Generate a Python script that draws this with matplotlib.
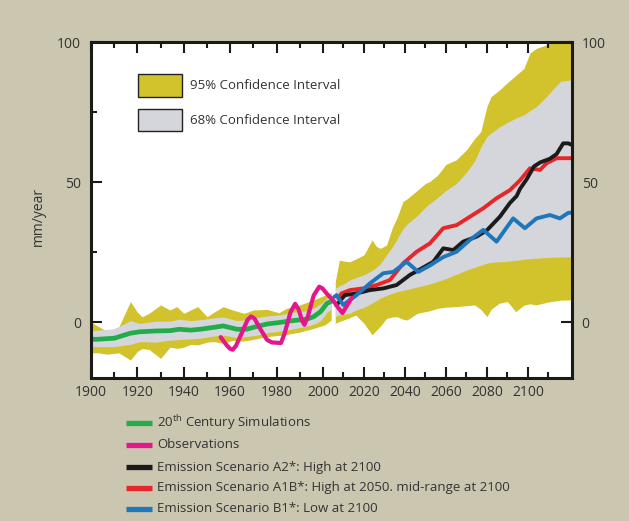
import numpy as np
import matplotlib
matplotlib.use("Agg")
import matplotlib.pyplot as plt
from matplotlib.lines import Line2D
from matplotlib.patches import Rectangle

# ---------------- data ----------------
# 20th-century model band (95% / 68%) and ensemble mean
band20_years = [1900, 1903, 1907, 1912, 1917, 1920, 1922, 1925, 1930, 1934, 1937, 1940, 1943,
                1946, 1950, 1953, 1957, 1961, 1966, 1970, 1976, 1981, 1984, 1990, 1996, 2001, 2004]
ci95_20_hi = [0.0, -1.5, -3.4, -1.7, 7.3, 3.5, 1.9, 3.1, 6.1, 4.3, 5.5, 3.1, 4.3,
              5.5, 1.9, 3.5, 5.5, 4.3, 3.1, 4.3, 4.5, 3.3, 4.8, 6.1, 7.9, 9.6, 10.5]
ci95_20_lo = [-11.0, -11.0, -11.5, -11.0, -13.6, -10.5, -9.5, -9.8, -13.0, -9.0, -9.4, -9.0, -8.0,
              -8.2, -7.2, -7.0, -7.6, -6.6, -6.8, -6.2, -5.2, -4.8, -4.5, -3.6, -2.3, -1.0, 0.7]

sim_years = [1900, 1902, 1910, 1917, 1921, 1928, 1934, 1938, 1943, 1947, 1953, 1957,
             1963, 1967, 1971, 1976, 1981, 1987, 1993, 1996, 1999, 2002, 2004]
sim_mean = [-6.1, -6.2, -5.8, -4.0, -3.5, -3.2, -3.1, -2.6, -2.9, -2.6, -1.9, -1.4,
            -2.6, -2.6, -1.7, -0.7, -0.2, 0.5, 1.0, 1.9, 3.7, 6.7, 7.3]
ci68_20_hi = [-3.0, -3.0, -2.4, 0.5, -0.5, 0.3, 0.3, 1.0, 0.5, 0.8, 1.5, 1.8,
              0.5, 0.8, 1.5, 2.2, 2.5, 3.5, 4.0, 5.0, 6.5, 8.5, 9.0]
ci68_20_lo = [-8.6, -8.8, -8.8, -8.0, -7.0, -7.2, -6.5, -6.3, -6.0, -5.8, -5.0, -4.7,
              -5.5, -5.2, -4.8, -3.8, -3.3, -2.5, -1.5, -0.8, 0.5, 3.5, 4.5]

# Observations
obs_years = [1955.9, 1958.5, 1960.0, 1961.1, 1962.5, 1965.5, 1967.5, 1969.0, 1970.5, 1973.0,
             1975.9, 1978.0, 1981.9, 1983.5, 1986.0, 1988.0, 1989.5, 1991.0, 1992.0, 1993.5,
             1996.0, 1998.4, 1999.8, 2002.0, 2005.1, 2007.0, 2009.5, 2011.0, 2014.0]
obs_vals = [-5.4, -8.3, -9.6, -9.9, -8.5, -3.0, 0.8, 2.0, 1.2, -2.5,
            -6.4, -7.3, -7.5, -4.0, 3.5, 6.5, 4.5, 0.5, -1.0, 2.0,
            9.5, 12.6, 12.0, 10.0, 7.6, 5.5, 3.2, 5.0, 8.6]

# 21st-century projection band
band21_years = [2006, 2008, 2010, 2013, 2016, 2020, 2024, 2026, 2028, 2031, 2034, 2036, 2039,
                2041, 2046, 2050, 2052, 2056, 2060, 2065, 2070, 2074, 2077, 2080, 2082, 2086,
                2090, 2094, 2098, 2101, 2104, 2109, 2112, 2116, 2121.5]
ci95_21_hi = [14.4, 22.1, 21.8, 21.5, 22.5, 24.0, 29.3, 27.0, 26.3, 27.5, 34.0, 37.0, 43.0,
              44.0, 47.0, 49.5, 50.1, 52.5, 56.3, 57.9, 61.5, 65.5, 68.0, 77.0, 80.5, 82.8,
              85.5, 88.0, 90.5, 96.0, 97.7, 99.0, 100.5, 103.0, 105.0]
ci68_21_hi = [12.0, 13.0, 13.5, 15.0, 15.8, 16.9, 18.4, 19.5, 20.8, 24.0, 27.0, 29.5, 33.3,
              35.0, 38.0, 41.0, 42.3, 44.5, 47.0, 49.4, 53.5, 57.5, 62.5, 66.2, 67.5, 69.6,
              71.3, 72.8, 74.0, 75.5, 76.9, 80.5, 83.0, 86.0, 86.5]
ci68_21_lo = [2.0, 2.5, 2.8, 3.1, 4.2, 5.2, 6.8, 7.6, 8.5, 9.5, 10.3, 10.8, 11.3,
              11.6, 12.5, 13.2, 13.6, 14.5, 15.5, 17.0, 18.5, 19.5, 20.3, 21.0, 21.3, 21.5,
              21.7, 22.0, 22.4, 22.6, 22.8, 23.0, 23.1, 23.2, 23.3]
ci95_21_lo = [-0.5, 0.2, 0.7, 1.5, 2.5, -0.5, -4.6, -3.0, -1.5, 1.3, 1.8, 1.9, 1.0,
              0.7, 3.1, 3.7, 4.0, 4.9, 5.3, 5.5, 5.8, 6.1, 4.5, 1.9, 4.5, 6.7,
              7.3, 3.7, 6.0, 6.5, 6.1, 7.0, 7.4, 7.8, 7.9]

# Emission scenarios
a2_years = [2006.5, 2010.7, 2016.4, 2022.9, 2029.4, 2035.9, 2042.4, 2047.3, 2053.8, 2058.7,
            2063.6, 2068.4, 2075.0, 2079.9, 2086.3, 2091.2, 2094.5, 2096.1, 2099.4, 2103.0,
            2106.0, 2110.7, 2114.0, 2117.2, 2119.7, 2121.5]
a2_vals = [6.0, 9.6, 10.2, 11.4, 12.0, 13.2, 16.8, 18.8, 21.5, 26.3,
           25.7, 28.7, 30.5, 32.7, 37.6, 42.5, 45.0, 47.5, 51.0, 55.6,
           57.0, 58.3, 60.0, 63.8, 63.8, 63.2]

a1b_years = [2007.5, 2009.0, 2013.2, 2019.7, 2026.2, 2032.7, 2039.2, 2045.7, 2052.2, 2058.7,
             2065.2, 2071.7, 2078.2, 2084.7, 2091.2, 2096.0, 2101.0, 2105.9, 2109.1, 2114.0, 2121.5]
a1b_vals = [8.5, 10.2, 11.4, 12.0, 13.2, 15.0, 21.0, 25.1, 28.1, 33.5,
            34.6, 37.6, 40.6, 44.2, 47.1, 50.5, 54.9, 54.3, 56.7, 58.5, 58.5]

b1_years = [2005.5, 2006.7, 2009.9, 2016.4, 2022.9, 2029.4, 2034.3, 2040.8, 2046.5, 2052.2,
            2058.7, 2065.2, 2071.7, 2078.2, 2084.7, 2092.8, 2098.5, 2104.2, 2110.7, 2115.6,
            2119.7, 2121.5]
b1_vals = [9.0, 9.6, 6.1, 9.6, 13.8, 17.4, 17.9, 21.5, 17.9, 20.2,
           23.2, 25.1, 29.3, 32.9, 28.7, 37.0, 33.5, 37.0, 38.2, 37.0,
           39.0, 39.0]

x_ticks = list(range(1900, 2101, 20))
y_ticks = [0, 50, 100]

legend_entries = [
    ("20$^{\\mathrm{th}}$ Century Simulations", "#22ad4a"),
    ("Observations", "#e3178b"),
    ("Emission Scenario A2*: High at 2100", "#1b1b1b"),
    ("Emission Scenario A1B*: High at 2050. mid-range at 2100", "#e6262b"),
    ("Emission Scenario B1*: Low at 2100", "#1f76bb"),
]

# ---------------- style ----------------
W, H, DPI = 629, 521, 100
BG = "#cbc6b0"
YELLOW = "#d2c22c"
GREY = "#d4d6db"
TXT = "#333333"
GREEN, MAGENTA, BLACK, RED, BLUE = [c for _, c in legend_entries]

plt.rcParams["font.family"] = ["Open Sans", "DejaVu Sans"]
plt.rcParams["mathtext.fontset"] = "custom"
plt.rcParams["mathtext.rm"] = "Open Sans"
plt.rcParams["mathtext.it"] = "Open Sans"

fig = plt.figure(figsize=(W / DPI, H / DPI), dpi=DPI, facecolor=BG)


def px_box(x0, y0, x1, y1):
    return [x0 / W, 1 - y1 / H, (x1 - x0) / W, (y1 - y0) / H]


ax = fig.add_axes(px_box(91, 42, 572, 378))
ax.set_facecolor("white")

# piecewise time axis: the 21st century is drawn slightly compressed
K = 2.05 / 2.32


def fwd(x):
    x = np.asarray(x, float)
    return np.where(x <= 2000, x, 2000 + (x - 2000) * K)


def inv(u):
    u = np.asarray(u, float)
    return np.where(u <= 2000, u, 2000 + (u - 2000) / K)


ax.set_xscale("function", functions=(fwd, inv))
ax.set_xlim(1900, 2121.5)
ax.set_ylim(-20, 100)

# bands
ax.fill_between(band20_years, ci95_20_lo, ci95_20_hi, color=YELLOW, lw=0, zorder=1)
ax.fill_between(sim_years, ci68_20_lo, ci68_20_hi, color=GREY, lw=0, zorder=2)
ax.fill_between(band21_years, ci95_21_lo, ci95_21_hi, color=YELLOW, lw=0, zorder=1)
ax.fill_between(band21_years, ci68_21_lo, ci68_21_hi, color=GREY, lw=0, zorder=2)

# lines
line_kw = dict(solid_joinstyle="round", solid_capstyle="round")
ax.plot(sim_years, sim_mean, color=GREEN, lw=3.4, zorder=3, **line_kw)
ax.plot(obs_years, obs_vals, color=MAGENTA, lw=3.0, zorder=6, **line_kw)
ax.plot(a1b_years, a1b_vals, color=RED, lw=2.8, zorder=4, **line_kw)
ax.plot(a2_years, a2_vals, color=BLACK, lw=2.8, zorder=4, **line_kw)
ax.plot(b1_years, b1_vals, color=BLUE, lw=2.8, zorder=5, **line_kw)

# axes decoration
for s in ax.spines.values():
    s.set_linewidth(2.2)
    s.set_color("#1a1a1a")
    s.set_zorder(10)

ax.set_xticks(x_ticks)
ax.set_xticks([y + 10 for y in x_ticks], minor=True)
ax.set_xticklabels([str(t) for t in x_ticks])
ax.set_yticks(y_ticks)
ax.set_yticks([25, 75], minor=True)
ax.set_yticklabels([str(t) for t in y_ticks])
ax.tick_params(which="both", direction="in", top=True, right=True, bottom=True, left=True,
               labelleft=True, labelright=True, color="#1a1a1a", labelcolor=TXT, labelsize=10)
ax.tick_params(which="major", length=8, width=1.5)
ax.tick_params(which="minor", length=4.5, width=1.5)
ax.tick_params(axis="x", pad=5)
ax.tick_params(axis="y", pad=7)

fig.text(38 / W, 1 - 216 / H, "mm/year", rotation=90, ha="center", va="center",
         color=TXT, fontsize=10)

# confidence-interval key
for (y0, y1), col, lab in [((74, 97), YELLOW, "95% Confidence Interval"),
                           ((109, 131), GREY, "68% Confidence Interval")]:
    fig.add_artist(Rectangle((138 / W, 1 - y1 / H), 44 / W, (y1 - y0) / H,
                             transform=fig.transFigure, facecolor=col,
                             edgecolor="#222222", lw=1.0, zorder=20))
    fig.text(190 / W, 1 - (y0 + y1) / 2 / H, lab, ha="left", va="center",
             color=TXT, fontsize=9.5, zorder=21)

# series key below the plot
row_y = [423, 445, 467, 488, 509]
for yy, (lab, col) in zip(row_y, legend_entries):
    fig.add_artist(Line2D([126 / W, 152 / W], [1 - yy / H, 1 - yy / H],
                          transform=fig.transFigure, color=col, lw=3.8,
                          solid_capstyle="butt"))
    fig.text(157 / W, 1 - yy / H, lab, ha="left", va="center", color=TXT, fontsize=9.5)

fig.savefig("out.png", dpi=DPI, facecolor=BG)
